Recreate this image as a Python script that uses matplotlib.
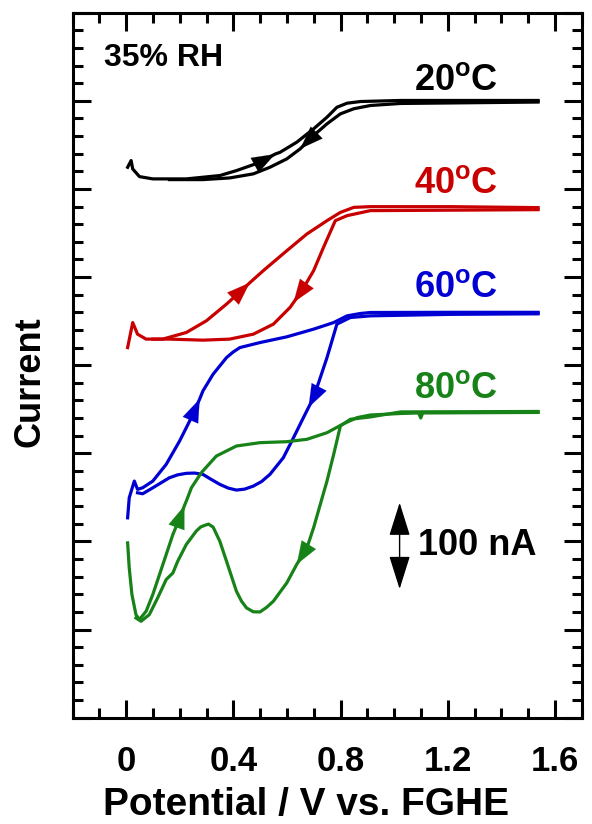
import numpy as np
import matplotlib
matplotlib.use("Agg")
import matplotlib.pyplot as plt
from matplotlib.ticker import MultipleLocator

plt.rcParams['font.family'] = ['Liberation Sans', 'DejaVu Sans']
plt.rcParams['font.weight'] = 'bold'
plt.rcParams['mathtext.fontset'] = 'custom'
plt.rcParams['mathtext.bf'] = 'Liberation Sans:bold'
plt.rcParams['mathtext.rm'] = 'Liberation Sans:bold'

# potential (V vs FGHE) and current (nA, curves stacked)
# 20 C : forward (f) and reverse (r) sweep
bk_fx = [0.005, 0.018, 0.024, 0.049, 0.099, 0.224, 0.349, 0.411, 0.499, 0.555, 0.574, 0.636, 0.699, 0.749, 0.786, 0.824, 0.874, 1.024, 1.537]
bk_fy = [624.6, 632.2, 622.7, 614.0, 611.4, 611.4, 615.2, 620.8, 630.2, 639.5, 641.6, 653.0, 668.2, 681.4, 692.7, 697.3, 699.2, 700.4, 700.4]
bk_rx = [1.537, 1.024, 0.911, 0.849, 0.799, 0.749, 0.699, 0.649, 0.599, 0.536, 0.474, 0.386, 0.286, 0.161]
bk_ry = [698.6, 697.0, 694.7, 691.0, 685.2, 673.9, 660.6, 645.5, 634.1, 624.6, 617.1, 612.5, 610.6, 610.6]
# 40 C
rd_fx = [0.005, 0.024, 0.042, 0.074, 0.136, 0.224, 0.299, 0.374, 0.436, 0.461, 0.511, 0.599, 0.674, 0.749, 0.799, 0.849, 0.911, 1.211, 1.537]
rd_fy = [420.0, 448.4, 435.2, 429.6, 429.6, 437.1, 450.4, 469.3, 486.4, 493.6, 507.2, 529.9, 548.9, 564.0, 573.4, 579.1, 579.9, 579.9, 578.8]
rd_rx = [1.537, 1.211, 0.911, 0.824, 0.780, 0.736, 0.699, 0.655, 0.624, 0.611, 0.549, 0.474, 0.386, 0.286, 0.161, 0.099]
rd_ry = [576.5, 575.9, 575.4, 569.7, 564.0, 533.7, 507.2, 484.5, 471.1, 465.5, 446.6, 435.2, 429.6, 428.4, 429.6, 429.6]
# 60 C
bl_fx = [0.005, 0.011, 0.030, 0.042, 0.061, 0.099, 0.149, 0.199, 0.249, 0.274, 0.286, 0.324, 0.374, 0.399, 0.424, 0.499, 0.599, 0.699, 0.774, 0.824, 0.874, 0.911, 1.211, 1.537]
bl_fy = [226.8, 249.6, 268.5, 259.1, 260.9, 268.5, 287.5, 314.0, 344.3, 361.7, 370.8, 389.8, 408.6, 415.0, 420.0, 425.7, 432.2, 440.9, 448.4, 456.0, 458.7, 459.8, 460.0, 460.0]
bl_rx = [1.537, 1.211, 0.911, 0.836, 0.786, 0.749, 0.724, 0.699, 0.680, 0.661, 0.624, 0.586, 0.536, 0.505, 0.474, 0.442, 0.411, 0.380, 0.349, 0.318, 0.286, 0.255, 0.224, 0.192, 0.161, 0.099, 0.061, 0.042]
bl_ry = [458.3, 457.7, 456.0, 454.1, 446.6, 408.6, 385.9, 363.2, 352.0, 340.5, 317.7, 295.0, 276.1, 268.0, 262.8, 259.4, 258.3, 260.6, 264.8, 270.2, 276.1, 277.6, 277.3, 275.6, 272.3, 260.9, 254.1, 255.2]
# 80 C
gr_fx = [0.005, 0.011, 0.021, 0.036, 0.049, 0.074, 0.099, 0.124, 0.149, 0.174, 0.205, 0.217, 0.224, 0.243, 0.280, 0.336, 0.411, 0.499, 0.599, 0.674, 0.749, 0.811, 0.861, 0.911, 1.024, 1.091, 1.099, 1.106, 1.537]
gr_fy = [198.4, 170.0, 139.8, 117.0, 111.4, 120.8, 139.8, 162.5, 185.2, 208.0, 230.7, 240.7, 245.8, 260.9, 278.0, 296.9, 308.3, 312.1, 313.2, 315.9, 323.4, 333.6, 340.5, 343.5, 345.2, 345.8, 340.1, 345.8, 346.4]
gr_rx = [1.537, 1.024, 0.911, 0.836, 0.799, 0.774, 0.749, 0.724, 0.699, 0.674, 0.636, 0.599, 0.549, 0.524, 0.499, 0.474, 0.449, 0.430, 0.411, 0.374, 0.349, 0.324, 0.307, 0.292, 0.277, 0.261, 0.224, 0.192, 0.174, 0.149, 0.117, 0.086, 0.055, 0.036]
gr_ry = [347.5, 347.0, 341.3, 338.6, 331.0, 298.9, 268.5, 242.1, 215.5, 192.7, 173.9, 153.0, 132.2, 125.3, 120.0, 120.2, 124.5, 132.2, 143.5, 177.6, 200.3, 216.3, 219.7, 218.2, 216.3, 211.7, 196.6, 177.6, 164.3, 156.8, 135.9, 117.0, 109.4, 113.2]

labels = ['20$^{\\mathbf{o}}$C', '40$^{\\mathbf{o}}$C', '60$^{\\mathbf{o}}$C', '80$^{\\mathbf{o}}$C']
label_y = [723, 606, 488, 373]
colors = ['black', '#c80000', '#0000d2', '#178217']

curves = [(bk_fx, bk_fy, bk_rx, bk_ry), (rd_fx, rd_fy, rd_rx, rd_ry),
          (bl_fx, bl_fy, bl_rx, bl_ry), (gr_fx, gr_fy, gr_rx, gr_ry)]
# index of the arrow tip on forward / reverse branch
arrow_idx = [(9, 7), (9, 8), (9, 8), (11, 10)]

fig = plt.figure(figsize=(5.92, 8.24), dpi=100)
ax = fig.add_axes([0.1228, 0.129, 0.86, 0.8556])

head = '-|>,head_length=0.55,head_width=0.2'
for (fx, fy, rx, ry), c, (fi, ri), lab, ly in zip(curves, colors, arrow_idx, labels, label_y):
    ax.plot(fx, fy, color=c, lw=2.3, solid_joinstyle='round')
    ax.plot(rx, ry, color=c, lw=2.3, solid_joinstyle='round')
    ax.annotate('', xy=(fx[fi], fy[fi]), xytext=(fx[fi - 1], fy[fi - 1]),
                arrowprops=dict(arrowstyle=head, color=c, mutation_scale=30, lw=0.1, shrinkA=0, shrinkB=0))
    ax.annotate('', xy=(rx[ri], ry[ri]), xytext=(rx[ri - 1], ry[ri - 1]),
                arrowprops=dict(arrowstyle=head, color=c, mutation_scale=30, lw=0.1, shrinkA=0, shrinkB=0))
    ax.text(1.23, ly, lab, color=c, fontsize=26, fontweight='bold', ha='center', va='center')

ax.text(-0.085, 749, '35% RH', fontsize=23, fontweight='bold', ha='left', va='center')

# 100 nA scale bar
ax.annotate('', xy=(1.02, 146), xytext=(1.02, 244),
            arrowprops=dict(arrowstyle='<|-|>,head_length=0.7,head_width=0.22', color='black',
                            mutation_scale=30, lw=1, shrinkA=0, shrinkB=0))
ax.text(1.09, 195, '100 nA', fontsize=26, fontweight='bold', ha='left', va='center')

ax.set_xlim(-0.2, 1.7)
ax.set_ylim(0, 800)
ax.xaxis.set_minor_locator(MultipleLocator(0.1))
ax.yaxis.set_major_locator(MultipleLocator(100))
ax.yaxis.set_minor_locator(MultipleLocator(20))
ax.set_xticks([0, 0.4, 0.8, 1.2, 1.6])
ax.set_xticklabels(['0', '0.4', '0.8', '1.2', '1.6'])
ax.set_yticklabels([])
ax.tick_params(which='both', direction='in', top=True, right=True, width=2.2)
ax.tick_params(which='major', length=13, labelsize=25, pad=20)
ax.tick_params(which='minor', length=7)
for s in ax.spines.values():
    s.set_linewidth(2.2)
for t in ax.get_xticklabels():
    t.set_fontweight('bold')

ax.set_xlabel('Potential / V vs. FGHE', fontsize=28, fontweight='bold', labelpad=6, x=0.458)
ax.set_ylabel('Current', fontsize=26, fontweight='bold', labelpad=-2, y=0.477)

fig.savefig('out.png', dpi=100)
